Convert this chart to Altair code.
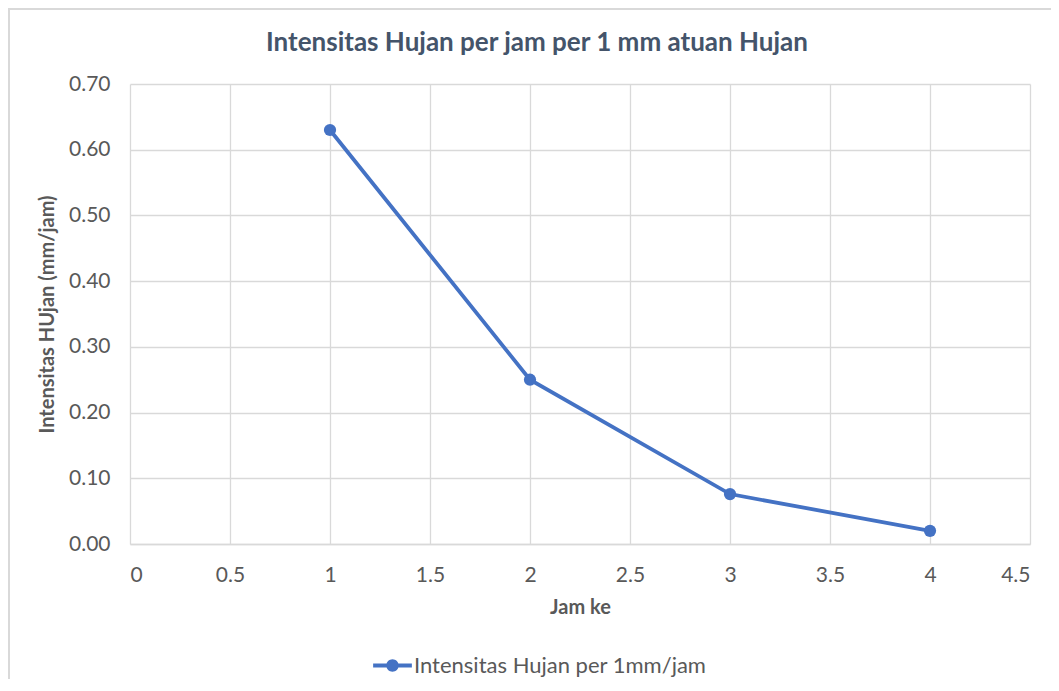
import altair as alt
import pandas as pd

jam = [1, 2, 3, 4]
intensitas = [0.63, 0.25, 0.076, 0.02]
series_name = "Intensitas Hujan per 1mm/jam"
chart_title = "Intensitas Hujan per jam per 1 mm atuan Hujan"

df = pd.DataFrame({"Jam ke": jam, "Intensitas": intensitas, "Seri": [series_name] * len(jam)})
tdf = pd.DataFrame({"t": [chart_title]})

BLUE = "#4472C4"
GRID = "#D9D9D9"
TXT = "#595959"
FONT = "Lato"

x = alt.X("Jam ke:Q", scale=alt.Scale(domain=[0, 4.5], nice=False),
          axis=alt.Axis(values=[0, 0.5, 1, 1.5, 2, 2.5, 3, 3.5, 4, 4.5], format="~g",
                        title="Jam ke", titlePadding=12, labelPadding=20))
y = alt.Y("Intensitas:Q", scale=alt.Scale(domain=[0, 0.7], nice=False),
          axis=alt.Axis(values=[0, 0.1, 0.2, 0.3, 0.4, 0.5, 0.6, 0.7], format=".2f",
                        title="Intensitas HUjan (mm/jam)", titlePadding=11, labelPadding=20))

legend_path = ("M-1,-0.1 L1,-0.1 L1,0.1 L-1,0.1 Z "
               "M-0.32,0 A0.32,0.32 0 1,1 0.32,0 A0.32,0.32 0 1,1 -0.32,0 Z")

color = alt.Color("Seri:N", scale=alt.Scale(range=[BLUE]),
                  legend=alt.Legend(title=None, orient="none", legendX=243, legendY=562,
                                    symbolType=legend_path, symbolSize=1500,
                                    symbolFillColor=BLUE, symbolStrokeColor=BLUE,
                                    symbolStrokeWidth=0, labelFontSize=22, labelColor=TXT,
                                    labelFont=FONT, labelOffset=2, labelLimit=500))

line = alt.Chart(df).mark_line(strokeWidth=3.8, color=BLUE).encode(x=x, y=y, color=color)
pts = alt.Chart(df).mark_point(filled=True, size=150, opacity=1, color=BLUE).encode(x=x, y=y)

border = alt.Chart(df).mark_rect(fill=None, stroke="#D9D9D9", strokeWidth=1.5, clip=False).encode(
    x=alt.value(-121), x2=alt.value(935), y=alt.value(-75), y2=alt.value(610))

title = alt.Chart(tdf).mark_text(font=FONT, fontSize=26, fontWeight="bold", color="#44546A",
                                 align="center", baseline="middle").encode(
    text="t:N", x=alt.value(407), y=alt.value(-41))

chart = alt.layer(border, title, line, pts).properties(
    width=900, height=460,
    padding={"left": 122, "top": 76, "right": 21, "bottom": 135},
    autosize=alt.AutoSizeParams(type="none"),
).configure_view(stroke=None).configure_axis(
    gridColor=GRID, gridWidth=1.3, domainColor=GRID, domainWidth=1.5, tickSize=0,
    labelFont=FONT, labelFontSize=21, labelColor=TXT,
    titleFont=FONT, titleFontSize=20, titleColor=TXT, titleFontWeight="bold",
).configure_axisY(domain=False)

chart.save("out.html", embed_options={"renderer": "svg", "actions": False})
